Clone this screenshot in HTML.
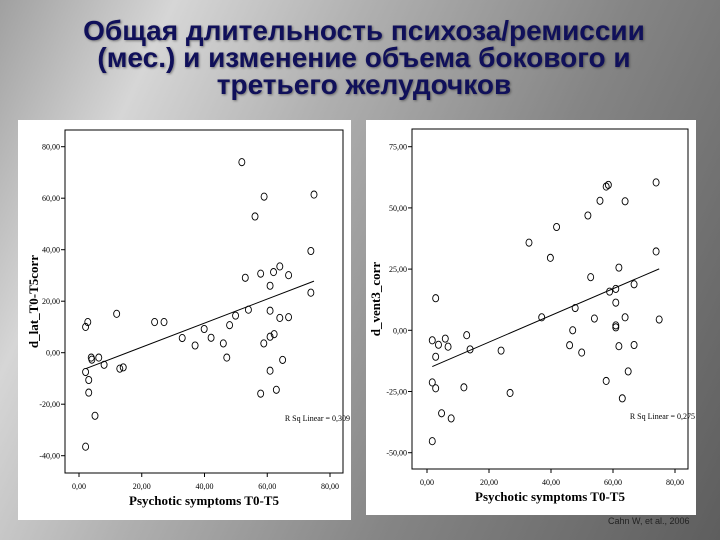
<!DOCTYPE html>
<html><head><meta charset="utf-8"><style>
html,body{margin:0;padding:0}
body{width:720px;height:540px;overflow:hidden;background:linear-gradient(115deg,#a0a0a0 0%,#d6d6d6 18%,#b0b0b0 38%,#858585 65%,#5e5e5e 100%);position:relative;font-family:"Liberation Sans",sans-serif}
#title{position:absolute;left:0;top:17px;width:728px;text-align:center;font-weight:bold;font-size:28px;line-height:27px;color:#10105a;text-shadow:1px 1px 2px rgba(40,40,40,.5)}
.panel{position:absolute;background:#fff}
#cite{position:absolute;left:608px;top:516px;font-size:9px;color:#222}
svg text{font-family:"Liberation Serif",serif}
</style></head><body>
<div id="title">Общая длительность психоза/ремиссии<br>(мес.) и изменение объема бокового и<br>третьего желудочков</div>
<div class="panel" style="left:18px;top:120px;width:333px;height:400px"></div>
<div class="panel" style="left:366px;top:120px;width:330px;height:395px"></div>
<div id="cite">Cahn W, et al., 2006</div>
<svg id="chart" width="720" height="540" style="position:absolute;left:0;top:0"></svg>
<script>
const leftX=[51.9,59,74.9,56.1,73.9,64,53,57.9,62,66.8,60.9,73.9,12,2.8,2.1,24.1,27.1,54,49.9,48,39.9,60.9,64,66.8,32.9,42.1,37,46,58.9,60.9,62.2,47.1,3.9,4.1,6.3,8,13,14.1,2.1,3.1,3.1,5.1,2.1,57.9,62.9,60.9,64.9];
const leftY=[74,60.6,61.4,52.9,39.5,33.5,29.1,30.7,31.3,30.1,26,23.3,15.1,11.9,10,11.9,11.9,16.7,14.4,10.7,9.2,16.3,13.5,13.8,5.7,5.8,2.8,3.6,3.6,6.2,7.2,-1.9,-1.9,-2.7,-1.9,-4.7,-6.2,-5.7,-7.5,-10.6,-15.5,-24.5,-36.5,-15.9,-14.4,-7,-2.8];
const leftFitX=[2.1,74.9];
const leftFitY=[-6.2,27.8];
const leftYTicks=[80,60,40,20,0,-20,-40];
const rightX=[73.9,58.5,57.8,55.8,63.9,51.9,41.8,32.9,39.8,73.9,61.9,52.8,66.8,60.9,58.9,60.9,47.8,2.8,37,54,63.9,74.9,60.9,60.9,47,1.7,5.9,3.7,6.8,12.8,13.9,23.9,46,49.9,61.9,66.8,2.8,64.9,1.7,2.8,11.9,26.8,57.8,63,4.7,7.8,1.7];
const rightY=[60.4,59.4,58.7,52.9,52.7,46.9,42.2,35.8,29.6,32.2,25.6,21.7,18.8,16.9,15.8,11.3,9.1,13.1,5.3,4.8,5.3,4.4,2,1.2,0,-4.1,-3.4,-5.9,-6.7,-2,-7.8,-8.3,-6.1,-9.1,-6.5,-6,-10.8,-16.8,-21.3,-23.7,-23.3,-25.6,-20.7,-27.8,-33.9,-36,-45.3];
const rightFitX=[1.7,74.9];
const rightFitY=[-14.8,25.1];
const rightYTicks=[75,50,25,0,-25,-50];
const xTicks=[0,20,40,60,80];
const NS='http://www.w3.org/2000/svg';
const svg=document.getElementById('chart');
function mk(tag,attrs,parent){const e=document.createElementNS(NS,tag);for(const k in attrs)e.setAttribute(k,attrs[k]);(parent||svg).appendChild(e);return e;}
function fmt(v){return v.toFixed(2).replace('.',',');}
function drawChart(cfg){
  const g=mk('g',{});
  
  
  const sx=v=>cfg.x0+(v-0)*(cfg.x80-cfg.x0)/80;
  const sy=v=>cfg.yTop+(cfg.yMax-v)*(cfg.yBot-cfg.yTop)/(cfg.yMax-cfg.yMin);
  const fr=mk('rect',{x:cfg.fl,y:cfg.ft,width:cfg.fr-cfg.fl,height:cfg.fb-cfg.ft,fill:'none',stroke:'#000','stroke-width':1},g);
  
  
  cfg.yTicks.forEach(t=>{
    const y=sy(t);
    mk('line',{x1:cfg.fl-4,x2:cfg.fl,y1:y,y2:y,stroke:'#000'},g);
    const tx=mk('text',{x:cfg.fl-5,y:y+3,'font-size':8,'text-anchor':'end',fill:'#000'},g);
    tx.textContent=fmt(t);
    
    
  });
  xTicks.forEach(t=>{
    const x=sx(t);
    mk('line',{x1:x,x2:x,y1:cfg.fb,y2:cfg.fb+4,stroke:'#000'},g);
    const tx=mk('text',{x:x,y:cfg.fb+16,'font-size':8,'text-anchor':'middle',fill:'#000'},g);
    tx.textContent=fmt(t);
    
    
  });
  const ln=mk('line',{x1:sx(cfg.fx[0]),y1:sy(cfg.fy[0]),x2:sx(cfg.fx[1]),y2:sy(cfg.fy[1]),stroke:'#000','stroke-width':1},g);
  
  
  cfg.xs.forEach((v,i)=>{
    const c=mk('ellipse',{cx:sx(v),cy:sy(cfg.ys[i]),rx:3,ry:3.6,fill:'none',stroke:'#000','stroke-width':0.9},g);
    
    
  });
  const r=mk('text',{x:cfg.rx,y:cfg.ry,'font-size':8,'text-anchor':'end',fill:'#000'},g);
  r.textContent=cfg.rtext;
  
  
  const xl=mk('text',{x:(cfg.fl+cfg.fr)/2,y:cfg.xly,'font-size':13,'font-weight':'bold','text-anchor':'middle',fill:'#000'},g);
  xl.textContent='Psychotic symptoms T0-T5';
  
  
  const yl=mk('text',{x:0,y:0,'font-size':13,'font-weight':'bold','text-anchor':'middle',fill:'#000',transform:`translate(${cfg.ylx},${(cfg.ft+cfg.fb)/2}) rotate(-90)`},g);
  yl.textContent=cfg.ytitle;
  
  
}
drawChart({name:'left-scatter',fl:65,fr:343,ft:130,fb:473,x0:79,x80:330,yTop:146.7,yBot:455.7,yMax:80,yMin:-40,yTicks:leftYTicks,xs:leftX,ys:leftY,fx:leftFitX,fy:leftFitY,rx:350,ry:421,rtext:'R Sq Linear = 0,309',xly:505,ylx:38,ytitle:'d_lat_T0-T5corr'});
drawChart({name:'right-scatter',fl:412,fr:688,ft:129,fb:469,x0:427,x80:675,yTop:146.7,yBot:452.7,yMax:75,yMin:-50,yTicks:rightYTicks,xs:rightX,ys:rightY,fx:rightFitX,fy:rightFitY,rx:695,ry:419,rtext:'R Sq Linear = 0,275',xly:501,ylx:380,ytitle:'d_vent3_corr'});
</script>
</body></html>
